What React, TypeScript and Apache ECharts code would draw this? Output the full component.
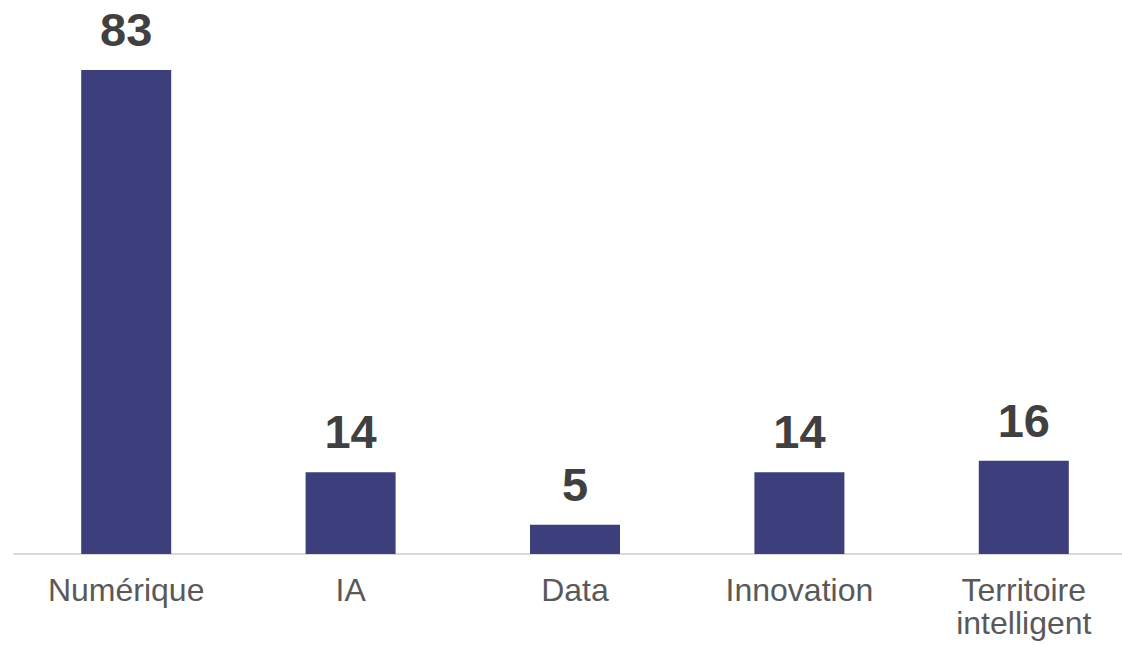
import React, { useEffect, useRef } from "react";
import * as echarts from "echarts";

const categories = ["Numérique", "IA", "Data", "Innovation", "Territoire\nintelligent"];
const values = [83, 14, 5, 14, 16];

export default function App() {
  const ref = useRef<HTMLDivElement>(null);
  useEffect(() => {
    if (!ref.current) return;
    const chart = echarts.init(ref.current, undefined, { renderer: "svg" });
    chart.setOption({
      animation: false,
      grid: { left: 14, right: 0, top: 70, bottom: 91, containLabel: false },
      xAxis: {
        type: "category",
        data: categories,
        axisLine: { show: true, lineStyle: { color: "#D9D9D9", width: 2 } },
        axisTick: { show: false },
        axisLabel: {
          interval: 0,
          margin: 19,
          color: "#595959",
          fontSize: 32,
          lineHeight: 33,
          fontFamily: "Liberation Sans, Arial, sans-serif",
        },
      },
      yAxis: {
        type: "value",
        min: 0,
        max: 83,
        show: false,
        splitLine: { show: false },
      },
      series: [
        {
          type: "bar",
          data: values,
          barWidth: 90,
          itemStyle: { color: "#3C3F7C" },
          label: {
            show: true,
            position: "top",
            distance: 17,
            color: "#404040",
            fontSize: 47,
            fontWeight: "bold",
            fontFamily: "Liberation Sans, Arial, sans-serif",
          },
        },
      ],
    });
    return () => chart.dispose();
  }, []);
  return (
    <div
      ref={ref}
      style={{ position: "fixed", left: 0, top: 0, width: 1136, height: 645, background: "#fff" }}
    />
  );
}
